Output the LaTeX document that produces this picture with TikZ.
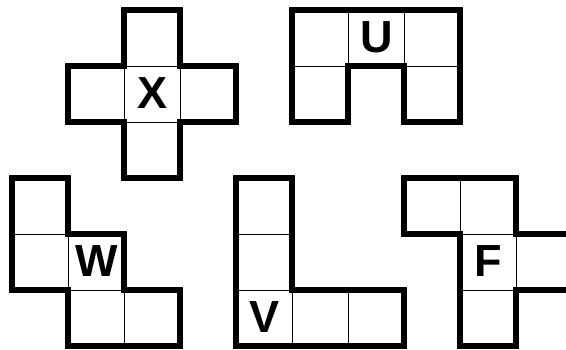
\documentclass[tikz,border=0pt]{standalone}
\usepackage{fontspec}
\setmainfont{Liberation Sans}
\tikzset{
  cell/.style={draw=black, line width=1pt, minimum size=56pt, inner sep=0pt, outer sep=0pt},
  outline/.style={draw=black, line width=6pt, line join=miter},
  lbl/.style={inner sep=0pt, font=\fontsize{45pt}{50pt}\selectfont\bfseries}
}
\begin{document}
\begin{tikzpicture}[x=1pt,y=-1pt]
\useasboundingbox (0,0) rectangle (566,349);
\clip (0,0) rectangle (566,349);
\begin{scope}[shift={(12.3pt,-10.3pt)}, x=56pt, y=-56pt]
  % X pentomino
  \node[cell] (x1) at (2.5,0.5) {};
  \node[cell] (x2) at (1.5,1.5) {};
  \node[cell] (x3) at (2.5,1.5) {};
  \node[cell] (x4) at (3.5,1.5) {};
  \node[cell] (x5) at (2.5,2.5) {};
  \draw[outline] (2,0) -- (3,0) -- (3,1) -- (4,1) -- (4,2) -- (3,2) -- (3,3) -- (2,3) -- (2,2) -- (1,2) -- (1,1) -- (2,1) -- cycle;
  \node[lbl] (lx) at ([yshift=1.5pt]x3.center) {X};
  % U pentomino
  \node[cell] (u1) at (5.5,0.5) {};
  \node[cell] (u2) at (6.5,0.5) {};
  \node[cell] (u3) at (7.5,0.5) {};
  \node[cell] (u4) at (5.5,1.5) {};
  \node[cell] (u5) at (7.5,1.5) {};
  \draw[outline] (5,0) -- (8,0) -- (8,2) -- (7,2) -- (7,1) -- (6,1) -- (6,2) -- (5,2) -- cycle;
  \node[lbl] (lu) at ([yshift=1.5pt]u2.center) {U};
  % W pentomino
  \node[cell] (w1) at (0.5,3.5) {};
  \node[cell] (w2) at (0.5,4.5) {};
  \node[cell] (w3) at (1.5,4.5) {};
  \node[cell] (w4) at (1.5,5.5) {};
  \node[cell] (w5) at (2.5,5.5) {};
  \draw[outline] (0,3) -- (1,3) -- (1,4) -- (2,4) -- (2,5) -- (3,5) -- (3,6) -- (1,6) -- (1,5) -- (0,5) -- cycle;
  \node[lbl] (lw) at ([yshift=1.5pt]w3.center) {W};
  % V pentomino
  \node[cell] (v1) at (4.5,3.5) {};
  \node[cell] (v2) at (4.5,4.5) {};
  \node[cell] (v3) at (4.5,5.5) {};
  \node[cell] (v4) at (5.5,5.5) {};
  \node[cell] (v5) at (6.5,5.5) {};
  \draw[outline] (4,3) -- (5,3) -- (5,5) -- (7,5) -- (7,6) -- (4,6) -- cycle;
  \node[lbl] (lv) at ([yshift=1.5pt]v3.center) {V};
  % F pentomino
  \node[cell] (f1) at (7.5,3.5) {};
  \node[cell] (f2) at (8.5,3.5) {};
  \node[cell] (f3) at (8.5,4.5) {};
  \node[cell] (f4) at (9.5,4.5) {};
  \node[cell] (f5) at (8.5,5.5) {};
  \draw[outline] (7,3) -- (9,3) -- (9,4) -- (10,4) -- (10,5) -- (9,5) -- (9,6) -- (8,6) -- (8,4) -- (7,4) -- cycle;
  \node[lbl] (lf) at ([yshift=1.5pt]f3.center) {F};
\end{scope}
\end{tikzpicture}
\end{document}
